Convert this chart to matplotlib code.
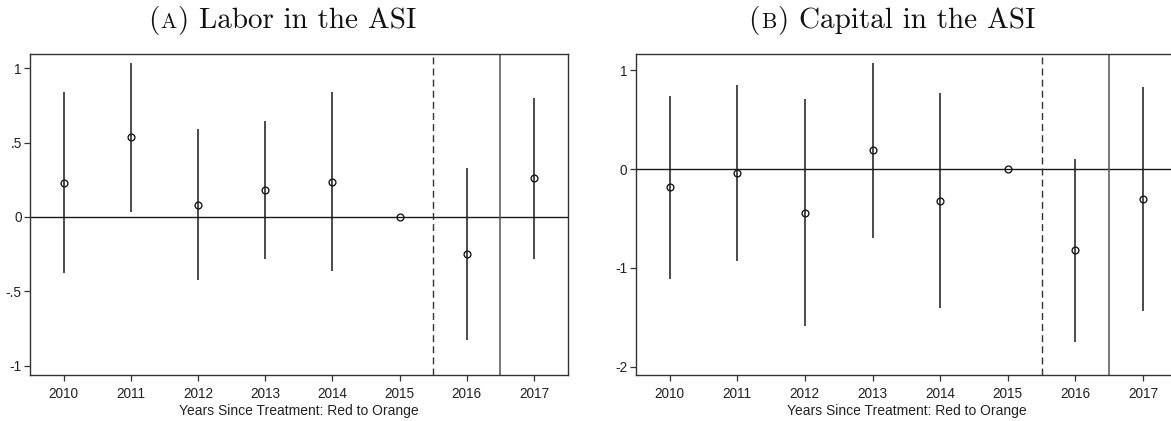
import matplotlib
matplotlib.use("Agg")
import matplotlib.pyplot as plt
from matplotlib.offsetbox import TextArea, HPacker, AnchoredOffsetbox

# ---- data ----
years = [2010, 2011, 2012, 2013, 2014, 2015, 2016, 2017]

labor_est = [0.231, 0.535, 0.083, 0.181, 0.237, 0.0, -0.249, 0.260]
labor_lo = [-0.379, 0.034, -0.423, -0.282, -0.363, 0.0, -0.826, -0.280]
labor_hi = [0.842, 1.037, 0.589, 0.645, 0.838, 0.0, 0.329, 0.800]

capital_est = [-0.186, -0.040, -0.442, 0.189, -0.320, 0.0, -0.823, -0.300]
capital_lo = [-1.110, -0.927, -1.592, -0.695, -1.410, 0.0, -1.750, -1.437]
capital_hi = [0.735, 0.853, 0.708, 1.073, 0.769, 0.0, 0.101, 0.830]

labor_ticks = [-1, -0.5, 0, 0.5, 1]
labor_ticklabels = ["-1", "-.5", "0", ".5", "1"]
capital_ticks = [-2, -1, 0, 1]
capital_ticklabels = ["-2", "-1", "0", "1"]

xlabel = "Years Since Treatment: Red to Orange"

plt.rcParams['font.family'] = ['Liberation Sans', 'DejaVu Sans']

DARK = '#1a1a1a'
SPINE = '#333333'

fig = plt.figure(figsize=(11.71, 4.21), dpi=100, facecolor='white')
ax_a = fig.add_axes([0.0256, 0.1093, 0.4592, 0.7624])
ax_b = fig.add_axes([0.5429, 0.1093, 0.4622, 0.7624])


def draw_panel(ax, est, lo, hi, ticks, ticklabels, ylim):
    ax.axhline(0, color=DARK, lw=1.0, zorder=1)
    ax.axvline(2015.5, color='#333333', lw=1.0, ls=(0, (5, 3)), zorder=1)
    ax.axvline(2016.5, color='#555555', lw=1.1, zorder=1)
    ax.vlines(years, lo, hi, color=DARK, lw=1.1, zorder=2)
    ax.plot(years, est, 'o', ms=4.9, mfc='none', mec=DARK, mew=1.0,
            ls='none', zorder=3)
    ax.set_xlim(2009.5, 2017.5)
    ax.set_ylim(*ylim)
    ax.set_xticks(years)
    ax.set_xticklabels([str(y) for y in years])
    ax.set_yticks(ticks)
    ax.set_yticklabels(ticklabels)
    ax.tick_params(axis='both', direction='out', length=4, width=0.9,
                   color=SPINE, labelsize=9.8, labelcolor='#222222', pad=2)
    ax.tick_params(axis='x', pad=5)
    for s in ax.spines.values():
        s.set_color(SPINE)
        s.set_linewidth(1.0)
    ax.set_xlabel(xlabel, fontsize=10, color='#222222', labelpad=2)


draw_panel(ax_a, labor_est, labor_lo, labor_hi, labor_ticks,
           labor_ticklabels, (-1.062, 1.095))
draw_panel(ax_b, capital_est, capital_lo, capital_hi, capital_ticks,
           capital_ticklabels, (-2.085, 1.164))


def panel_title(letter, rest, xc):
    big = dict(family='cmr10', size=21, color='#111111')
    small = dict(family='cmr10', size=15.5, color='#111111')
    parts = [TextArea("(", textprops=big),
             TextArea(letter, textprops=small),
             TextArea(") " + rest, textprops=big)]
    box = HPacker(children=parts, align="baseline", pad=0, sep=1)
    anchored = AnchoredOffsetbox(loc='upper center', child=box, pad=0,
                                 frameon=False, bbox_to_anchor=(xc, 1.0),
                                 bbox_transform=fig.transFigure,
                                 borderpad=0.4)
    fig.add_artist(anchored)


panel_title("A", "Labor in the ASI", 282 / 1171)
panel_title("B", "Capital in the ASI", 892 / 1171)

fig.savefig("out.png", dpi=100, facecolor='white')
